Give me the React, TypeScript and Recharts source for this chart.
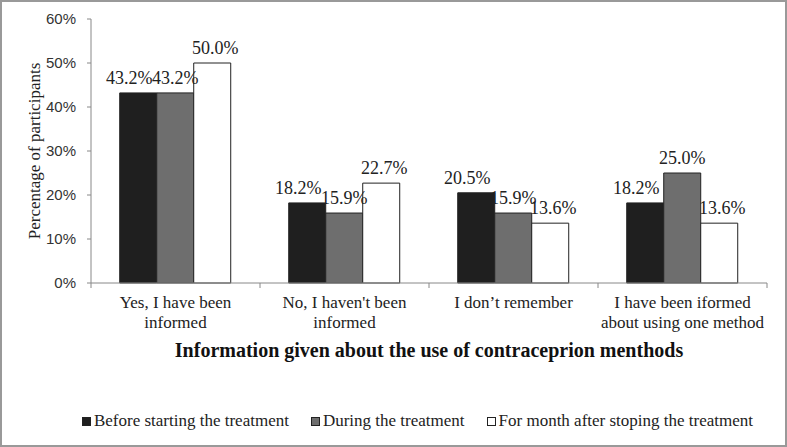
import { Bar, BarChart, LabelList, Legend, XAxis, YAxis } from 'recharts'

const categories = [
  'Yes, I have been\ninformed',
  "No, I haven't  been\ninformed",
  'I don’t remember',
  'I have been iformed\nabout using one method',
]
const beforeTreatment = [43.2, 18.2, 20.5, 18.2]
const duringTreatment = [43.2, 15.9, 15.9, 25.0]
const afterTreatment = [50.0, 22.7, 13.6, 13.6]
const yTicks = [0, 10, 20, 30, 40, 50, 60]

// labels nudged sideways like Excel does so neighbours don't collide
const series = [
  { key: 'before', name: 'Before starting the treatment', fill: '#1f1f1f', labelDx: -9 },
  { key: 'during', name: 'During the treatment', fill: '#6e6e6e', labelDx: 0 },
  { key: 'after', name: 'For month after stoping the treatment', fill: '#ffffff', labelDx: 3 },
]

const data = categories.map((category, i) => ({
  category,
  before: beforeTreatment[i],
  during: duringTreatment[i],
  after: afterTreatment[i],
}))

const serif = '"Liberation Serif", "Times New Roman", serif'
const sans = '"Liberation Sans", Arial, sans-serif'

function CategoryTick(props: any) {
  const { x, y, payload, index } = props
  const lines = String(payload.value).split('\n')
  const half = payload.offset ?? 0
  return (
    <g>
      <line x1={x - half} y1={y} x2={x - half} y2={y + 5} stroke="#888" />
      {index === categories.length - 1 && (
        <line x1={x + half} y1={y} x2={x + half} y2={y + 5} stroke="#888" />
      )}
      <text x={x} y={y + 25} textAnchor="middle" fontFamily={serif} fontSize={17} fill="#222">
        {lines.map((line, i) => (
          <tspan key={i} x={x} dy={i === 0 ? 0 : 19.5}>
            {line}
          </tspan>
        ))}
      </text>
    </g>
  )
}

function LegendContent() {
  return (
    <div
      style={{
        display: 'flex',
        justifyContent: 'center',
        gap: 22,
        paddingLeft: 68,
        fontFamily: serif,
        fontSize: 17,
        color: '#222',
        lineHeight: '20px',
      }}
    >
      {series.map((s) => (
        <div key={s.key} style={{ display: 'flex', alignItems: 'center' }}>
          <span
            style={{
              display: 'inline-block',
              width: 7,
              height: 7,
              background: s.fill,
              border: '1px solid #222',
              marginRight: 3,
            }}
          />
          {s.name}
        </div>
      ))}
    </div>
  )
}

export default function App() {
  return (
    <div style={{ position: 'absolute', left: 0, top: 0, width: 787, height: 447, background: '#fff' }}>
      <BarChart
        width={787}
        height={447}
        data={data}
        margin={{ top: 19, right: 20, left: 0, bottom: 16 }}
        barCategoryGap="17%"
        barGap={0}
      >
        <XAxis
          dataKey="category"
          stroke="#888"
          tickLine={false}
          tickSize={0}
          tickMargin={0}
          height={128}
          interval={0}
          tick={<CategoryTick />}
          label={{
            value: 'Information given about the use of contraceprion menthods',
            position: 'insideTop',
            offset: 60,
            fontFamily: serif,
            fontSize: 20,
            fontWeight: 'bold',
            fill: '#111',
          }}
        />
        <YAxis
          width={91}
          domain={[0, 60]}
          ticks={yTicks}
          tickFormatter={(v) => `${v}%`}
          stroke="#888"
          tickSize={4}
          tickMargin={11}
          tick={{ fontFamily: sans, fontSize: 15, fill: '#333' }}
          label={{
            value: 'Percentage of participants',
            angle: -90,
            position: 'center',
            dx: -12,
            fontFamily: serif,
            fontSize: 17,
            fill: '#222',
          }}
        />
        <Legend verticalAlign="bottom" content={<LegendContent />} />
        {series.map((s) => (
          <Bar
            key={s.key}
            dataKey={s.key}
            name={s.name}
            fill={s.fill}
            stroke="#222"
            strokeWidth={1}
            isAnimationActive={false}
          >
            <LabelList
              dataKey={s.key}
              position="top"
              offset={9}
              dx={s.labelDx}
              formatter={(v: any) => `${Number(v).toFixed(1)}%`}
              style={{ fontFamily: serif, fontSize: 18, fill: '#222' }}
            />
          </Bar>
        ))}
      </BarChart>
      <div
        style={{
          position: 'absolute',
          inset: 0,
          border: '2px solid #999',
          boxSizing: 'border-box',
          pointerEvents: 'none',
        }}
      />
    </div>
  )
}
